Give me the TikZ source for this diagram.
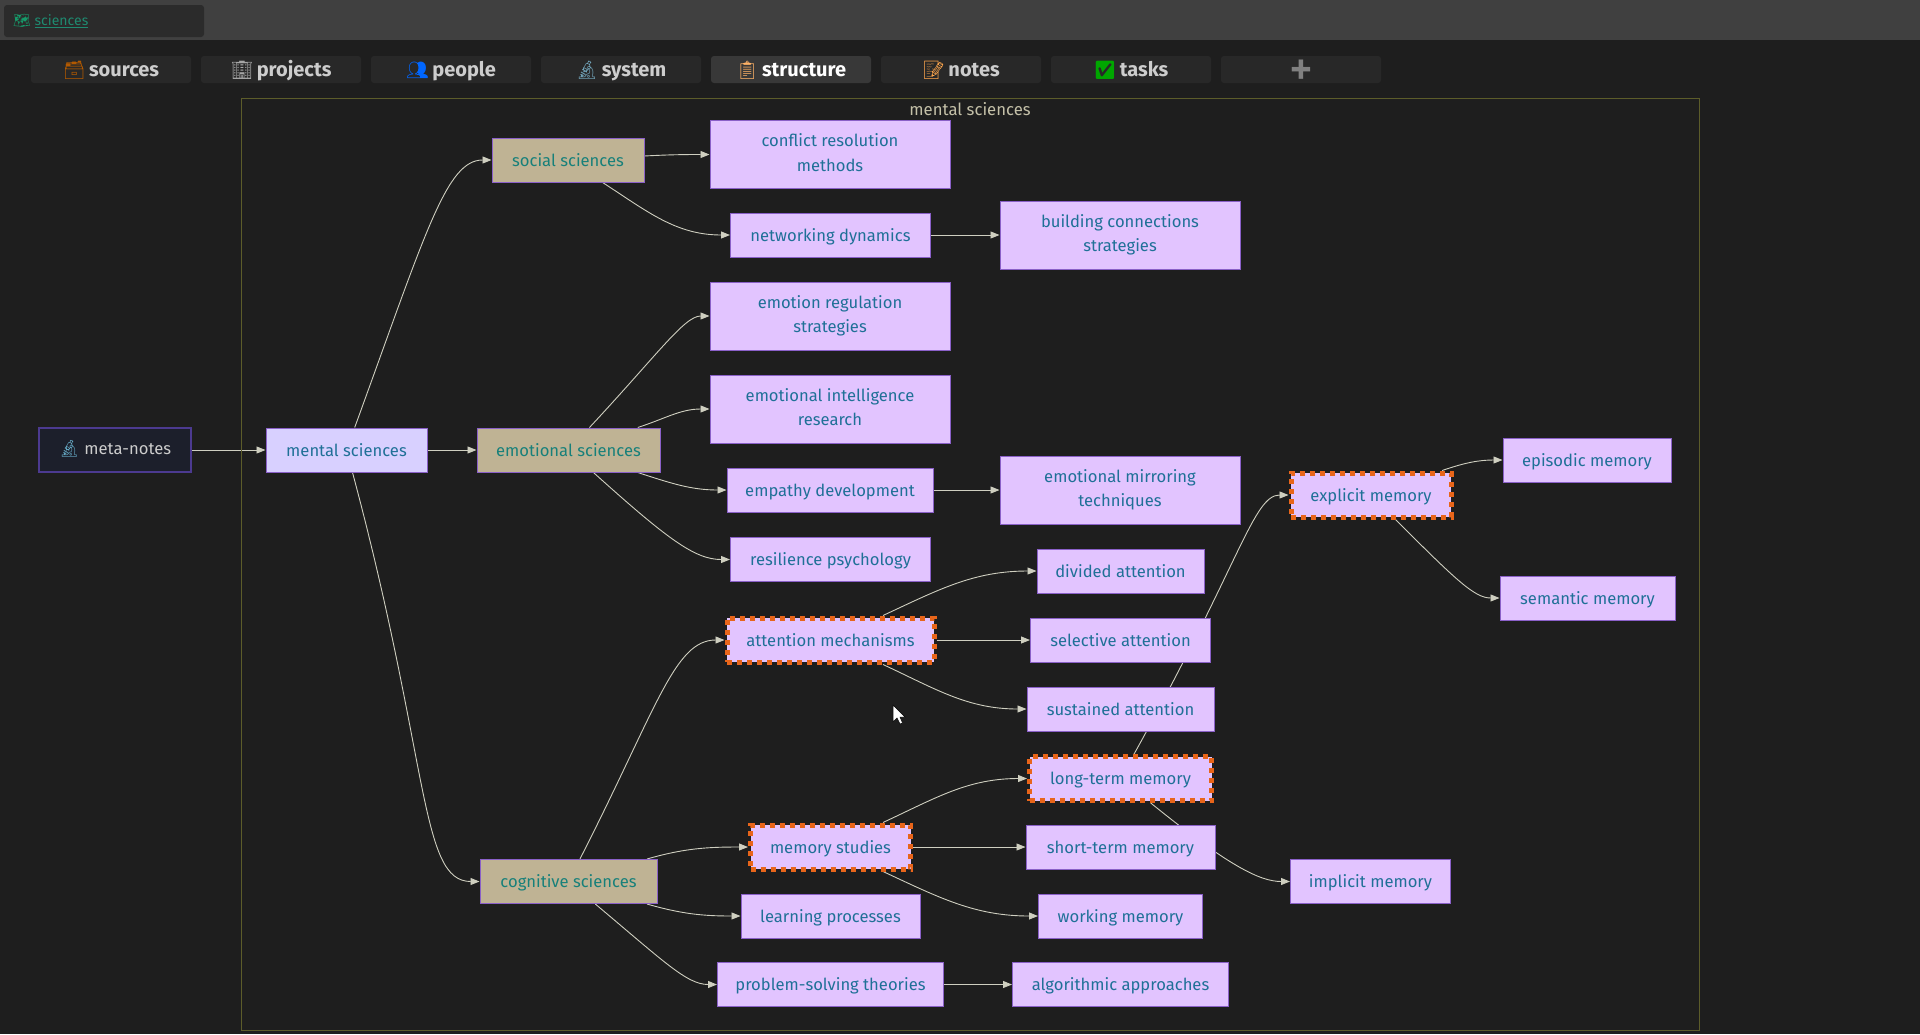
\documentclass[tikz,border=0pt]{standalone}
\usepackage{fontspec}
\setmainfont{Fira Sans}
\newfontfamily\emojifont{Noto Emoji}
\usetikzlibrary{arrows.meta}
\pgfdeclarelayer{back}
\pgfdeclarelayer{edges}
\pgfsetlayers{back,edges,main}
\definecolor{pagebg}{HTML}{1E1E1E}
\definecolor{barbg}{HTML}{404040}
\definecolor{pillbg}{HTML}{2B2B2B}
\definecolor{tabbg}{HTML}{282828}
\definecolor{tabon}{HTML}{383838}
\definecolor{tabtext}{HTML}{CDCDCD}
\definecolor{frameline}{HTML}{5C5C2A}
\definecolor{framelabel}{HTML}{C4C0A8}
\definecolor{linkgreen}{HTML}{1F8A70}
\definecolor{noteline}{HTML}{8A60C8}
\definecolor{notefill}{HTML}{E2C4FF}
\definecolor{notetext}{HTML}{1F7097}
\definecolor{rootfill}{HTML}{D8D0FF}
\definecolor{branchfill}{HTML}{BFB394}
\definecolor{branchtext}{HTML}{17807A}
\definecolor{metafill}{HTML}{1C1F2B}
\definecolor{metaline}{HTML}{4C3A90}
\definecolor{hotline}{HTML}{E8651A}
\definecolor{edgeline}{HTML}{CFCFC0}

\begin{document}
\begin{tikzpicture}[x=1pt,y=1pt,->,>={Triangle[length=9pt,width=7pt]},
  tab node/.style={fill=tabbg,rounded corners=3pt,minimum width=160pt,
  minimum height=27pt,inner sep=0pt,text=tabtext,text height=16pt,text depth=2pt,
  font=\fontsize{20}{24}\selectfont\bfseries},
  main node/.style={rectangle,draw=noteline,fill=notefill,line width=1pt,
  text=notetext,minimum height=44pt,inner sep=0pt,align=center,
  text height=13pt,text depth=1pt,
  font=\fontsize{16.6}{24.5}\selectfont},
  tall node/.style={main node,minimum width=240pt,minimum height=68pt,
  text height=36pt,text depth=3pt},
  hot node/.style={main node,draw=hotline,line width=5pt,
  dash pattern=on 5pt off 5pt},
  branch node/.style={main node,fill=branchfill,text=branchtext},
  every edge/.style={draw=edgeline,line width=0.9pt}]

  \begin{pgfonlayer}{back}
    \fill[pagebg] (0,0) rectangle (1920,-1034);
    \fill[barbg] (0,0) rectangle (1920,-40);
  \end{pgfonlayer}
  \useasboundingbox (0,0) rectangle (1920,-1034);

  % top bar and tabs
  \node[fill=pillbg,rounded corners=3pt,minimum width=200pt,minimum height=32pt,
    inner sep=0pt] (pill) at (104,-21) {};
  \node[anchor=west,inner sep=0pt,text=linkgreen,font=\fontsize{14}{16}\selectfont]
    (link) at (13,-21) {{\emojifont\color{notetext!70!green}🗺} \underline{sciences}};
  \node[tab node] (sources) at (111,-69.5) {{\emojifont\fontsize{18}{22}\selectfont\color{orange!70!black}🗃}\,sources};
  \node[tab node] (projects) at (281,-69.5) {{\emojifont\fontsize{18}{22}\selectfont\color{gray!70}🏢}\,projects};
  \node[tab node] (people) at (451,-69.5) {{\emojifont\fontsize{18}{22}\selectfont\color{blue!60!cyan}👥}\,people};
  \node[tab node] (system) at (621,-69.5) {{\emojifont\fontsize{18}{22}\selectfont\color{cyan!40!gray}🔬}\,system};
  \node[tab node,fill=tabon,text=white] (structure) at (791,-69.5) {{\emojifont\fontsize{18}{22}\selectfont\color{orange!60!white}📋}\,structure};
  \node[tab node] (notes) at (961,-69.5) {{\emojifont\fontsize{18}{22}\selectfont\color{orange!70!white}📝}\,notes};
  \node[tab node] (tasks) at (1131,-69.5) {{\emojifont\fontsize{18}{22}\selectfont\color{green!65!black}✅}\,tasks};
  \node[tab node,text=gray] (plus) at (1301,-69.5) {{\emojifont ➕}};

  % group frame
  \node[draw=frameline,line width=1pt,minimum width=1458pt,minimum height=932pt,
    inner sep=0pt] (frame) at (970,-564) {};
  \node[inner sep=0pt,text=framelabel,font=\fontsize{16.7}{20}\selectfont]
    (framelabel) at (970,-109) {mental sciences};

  \node[main node,fill=metafill,draw=metaline,line width=1.6pt,text=tabtext,minimum width=152pt,
    text height=12pt,text depth=4pt] (meta) at (115,-450) {{\emojifont\color{cyan!50!gray}🔬} meta-notes};
  \node[main node,fill=rootfill,minimum width=161pt] (mental) at (346.5,-450) {mental sciences};

  \node[branch node,minimum width=152pt] (social) at (568,-160) {social sciences};
  \node[branch node,minimum width=183pt] (emotional) at (568.5,-450) {emotional sciences};
  \node[branch node,minimum width=177pt] (cognitive) at (568.5,-881.5) {cognitive sciences};

  \node[tall node] (conflict) at (830,-154.5) {conflict resolution\\methods};
  \node[main node,minimum width=200pt] (networking) at (830.5,-235) {networking dynamics};
  \node[tall node] (building) at (1120,-235) {building connections\\strategies};
  \node[tall node] (regulation) at (830,-316) {emotion regulation\\strategies};
  \node[tall node] (intelligence) at (830,-409) {emotional intelligence\\research};
  \node[main node,minimum width=206pt] (empathy) at (830,-490) {empathy development};
  \node[tall node] (mirroring) at (1120,-490) {emotional mirroring\\techniques};
  \node[main node,minimum width=200pt] (resilience) at (830.5,-559.5) {resilience psychology};

  \node[hot node,minimum width=207pt] (attention) at (830.5,-640) {attention mechanisms};
  \node[main node,minimum width=167pt] (divided) at (1120.5,-571) {divided attention};
  \node[main node,minimum width=180pt] (selective) at (1120.5,-640) {selective attention};
  \node[main node,minimum width=187pt] (sustained) at (1120.5,-709) {sustained attention};

  \node[hot node,minimum width=182pt] (longterm) at (1120.5,-778.5) {long-term memory};
  \node[main node,minimum width=189pt] (shortterm) at (1120.5,-847) {short-term memory};
  \node[main node,minimum width=164pt] (working) at (1120.5,-916) {working memory};
  \node[hot node,minimum width=160pt] (studies) at (830.5,-847) {memory studies};
  \node[main node,minimum width=179pt] (learning) at (830.5,-916) {learning processes};
  \node[main node,minimum width=226pt] (problem) at (830.5,-984.5) {problem-solving theories};
  \node[main node,minimum width=216pt] (algorithmic) at (1120.5,-984.5) {algorithmic approaches};

  \node[hot node,minimum width=160pt] (explicit) at (1371,-495) {explicit memory};
  \node[main node,minimum width=160pt] (implicit) at (1370.5,-881.5) {implicit memory};
  \node[main node,minimum width=168pt] (episodic) at (1587,-460) {episodic memory};
  \node[main node,minimum width=175pt] (semantic) at (1587.5,-598) {semantic memory};

  % mouse pointer
  \fill[white,draw=black,line width=0.5pt,-] (893,-705) -- (893,-722) -- (897,-718)
    -- (900,-724) -- (902.5,-723) -- (900,-717) -- (905,-717) -- cycle;

  \begin{pgfonlayer}{edges}
  \path
    (meta) edge (mental)
    (mental) edge (emotional)
    (mental) edge [out=70,in=180,out distance=210pt,in distance=45pt] (social.west)
    (mental) edge [out=-75,in=180,out distance=300pt,in distance=60pt] (cognitive.west)
    (social) edge [out=3,in=180] (conflict.west)
        edge [out=-33,in=180] (networking.west)
    (networking) edge (building)
    (emotional) edge [out=47,in=180,out distance=100pt,in distance=25pt] (regulation.west)
        edge [out=18,in=180] (intelligence.west)
        edge [out=-18,in=180] (empathy.west)
        edge [out=-42,in=180,out distance=100pt,in distance=35pt] (resilience.west)
    (empathy) edge (mirroring)
    (cognitive) edge [out=63,in=180,out distance=170pt,in distance=50pt] (attention.west)
        edge [out=16,in=180] (studies.west)
        edge [out=-16,in=180] (learning.west)
        edge [out=-40,in=180,out distance=90pt,in distance=30pt] (problem.west)
    (problem) edge (algorithmic)
    (attention) edge [out=25,in=180] (divided.west)
        edge (selective)
        edge [out=-25,in=180] (sustained.west)
    (studies) edge [out=25,in=180] (longterm.west)
        edge (shortterm)
        edge [out=-25,in=180] (working.west)
    (longterm) edge [out=61,in=180,out distance=220pt,in distance=35pt] (explicit.west)
        edge [out=-39,in=180,out distance=100pt,in distance=30pt] (implicit.west)
    (explicit) edge [out=19,in=180] (episodic.west)
        edge [out=-45,in=180,out distance=85pt,in distance=25pt] (semantic.west);
  \end{pgfonlayer}

\end{tikzpicture}
\end{document}
